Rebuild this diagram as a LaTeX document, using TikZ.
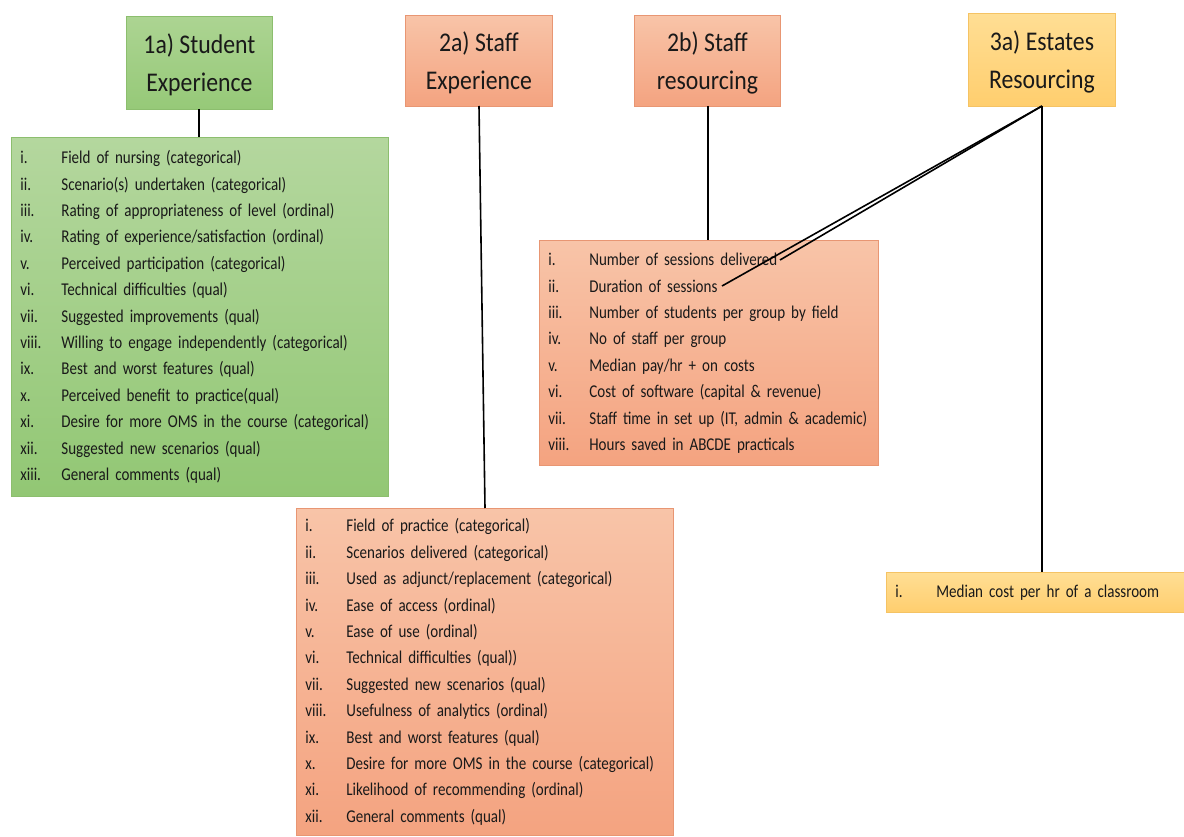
\documentclass[tikz,border=0pt]{standalone}
\usepackage{fontspec}
\setmainfont{Carlito}[FakeStretch=0.88]
\newfontfamily\listfont{Carlito}[FakeStretch=0.835]
\usepackage{array}
\definecolor{txt}{RGB}{25,25,25}
\definecolor{gTop}{RGB}{180,215,158}
\definecolor{gBot}{RGB}{146,199,116}
\definecolor{gHTop}{RGB}{172,212,146}
\definecolor{gHBot}{RGB}{150,201,120}
\definecolor{gEdge}{RGB}{140,190,110}
\definecolor{sTop}{RGB}{248,196,168}
\definecolor{sBot}{RGB}{244,163,128}
\definecolor{sEdge}{RGB}{232,150,115}
\definecolor{yTop}{RGB}{255,222,148}
\definecolor{yBot}{RGB}{255,206,110}
\definecolor{yEdge}{RGB}{245,195,100}
\tikzset{
  box/.style={anchor=north west, rectangle, inner ysep=0pt, line width=0.8pt, text=txt},
  head/.style={box, align=center, font=\fontsize{27}{38}\selectfont},
  lst/.style={box, inner xsep=9pt, font=\listfont\fontsize{18}{26.4}\selectfont},
  green/.style={draw=gEdge, top color=gHTop, bottom color=gHBot},
  greenl/.style={draw=gEdge, top color=gTop, bottom color=gBot},
  salmon/.style={draw=sEdge, top color=sTop, bottom color=sBot},
  yellow/.style={draw=yEdge, top color=yTop, bottom color=yBot},
  link/.style={draw=black, line width=1.6pt}
}
\newcommand{\itemlist}[1]{\begin{tabular}{@{}p{41pt}@{}l@{}}#1\end{tabular}}
\newcommand{\headtext}[2]{\raisebox{0pt}[\dimexpr\height+4pt\relax]{\begin{tabular}{@{}c@{}}#1\\#2\end{tabular}}}
\begin{document}
\begin{tikzpicture}[x=1pt,y=-1pt]
\useasboundingbox[fill=white] (0,0) rectangle (1184,837);
% headers
\node[head, green, minimum width=146pt, minimum height=93pt] (h1a) at (126,16) {\headtext{1a) Student}{Experience}};
\node[head, salmon, minimum width=147pt, minimum height=91pt] (h2a) at (405,15) {\headtext{2a) Staff}{Experience}};
\node[head, salmon, minimum width=146pt, minimum height=91pt] (h2b) at (634,15) {\headtext{2b) Staff}{resourcing}};
\node[head, yellow, minimum width=147pt, minimum height=93pt] (h3a) at (968,13) {\headtext{3a) Estates}{Resourcing}};
% lists
\node[lst, greenl, text width=359pt, minimum height=359pt] (l1a) at (11,137) {\itemlist{
i. & Field of nursing (categorical)\\
ii. & Scenario(s) undertaken (categorical)\\
iii. & Rating of appropriateness of level (ordinal)\\
iv. & Rating of experience/satisfaction (ordinal)\\
v. & Perceived participation (categorical)\\
vi. & Technical difficulties (qual)\\
vii. & Suggested improvements (qual)\\
viii. & Willing to engage independently (categorical)\\
ix. & Best and worst features (qual)\\
x. & Perceived benefit to practice(qual)\\
xi. & Desire for more OMS in the course (categorical)\\
xii. & Suggested new scenarios (qual)\\
xiii. & General comments (qual)}};
\node[lst, salmon, text width=321pt, minimum height=225pt] (l2b) at (539,240) {\itemlist{
i. & Number of sessions delivered\\
ii. & Duration of sessions\\
iii. & Number of students per group by field\\
iv. & No of staff per group\\
v. & Median pay/hr + on costs\\
vi. & Cost of software (capital \& revenue)\\
vii. & Staff time in set up (IT, admin \& academic)\\
viii. & Hours saved in ABCDE practicals}};
\node[lst, salmon, text width=359pt, minimum height=327pt] (l2a) at (296,508) {\itemlist{
i. & Field of practice (categorical)\\
ii. & Scenarios delivered (categorical)\\
iii. & Used as adjunct/replacement (categorical)\\
iv. & Ease of access (ordinal)\\
v. & Ease of use (ordinal)\\
vi. & Technical difficulties (qual))\\
vii. & Suggested new scenarios (qual)\\
viii. & Usefulness of analytics (ordinal)\\
ix. & Best and worst features (qual)\\
x. & Desire for more OMS in the course (categorical)\\
xi. & Likelihood of recommending (ordinal)\\
xii. & General comments (qual)}};
\node[lst, yellow, text width=280pt, minimum height=40pt] (l3a) at (886,572) {\itemlist{
i. & Median cost per hr of a classroom}};
% connectors
\coordinate (c1) at (780,260);
\coordinate (c2) at (722,286);
\coordinate (t2a) at (485,508);
\coordinate (b1a) at (199,109);
\coordinate (b2a) at (479,106);
\coordinate (b2b) at (708,106);
\coordinate (b3a) at (1042,106);
\draw[link] (b1a) -- (b1a |- l1a.north);
\draw[link] (b2a) -- (t2a);
\draw[link] (b2b) -- (b2b |- l2b.north);
\draw[link] (b3a) -- (b3a |- l3a.north);
\draw[link] (b3a) -- (c1);
\draw[link] (b3a) -- (c2);
\end{tikzpicture}
\end{document}
